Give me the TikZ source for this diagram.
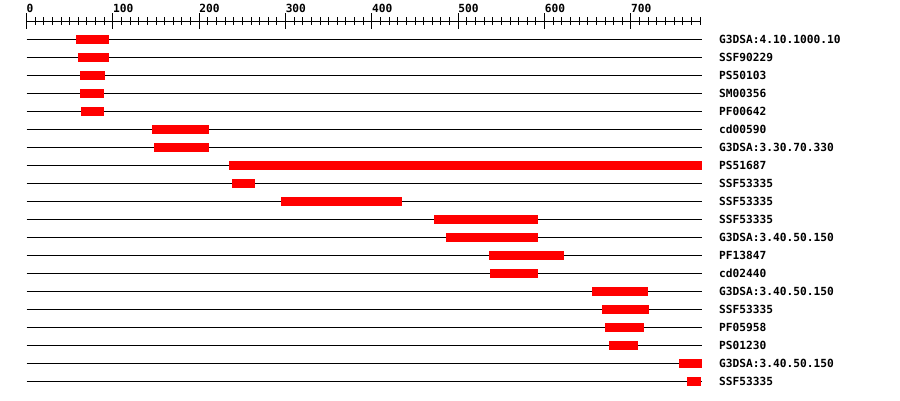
\documentclass[tikz,border=0pt]{standalone}
\usepackage{fontspec}
\setmonofont{DejaVu Sans Mono}

\tikzset{
  track/.style={line width=1pt},
  hit/.style={fill=red},
  tag/.style={anchor=base west, inner sep=0pt, font=\ttfamily\bfseries\fontsize{11.2}{13}\selectfont},
}

\begin{document}
\begin{tikzpicture}[x=1pt,y=-1pt]
  \useasboundingbox (0,0) rectangle (900,400);
  % ruler
  \draw[track] (26.5,21) -- (700,21);
  \foreach \t in {0,10,...,780} { \draw[track] ({26.5+0.8635*\t},17) -- ++(0,8); }
  \foreach \t in {0,100,...,700} {
    \draw[track] ({26.5+0.8635*\t},13) -- ++(0,16);
    \node[tag] (t\t) at ({26.5+0.8635*\t},12) {\t};
  }
  % domain tracks
  \foreach \i/\a/\b/\dom in {1/76/109/G3DSA:4.10.1000.10, 2/78/109/SSF90229,
      3/80/105/PS50103, 4/80/104/SM00356, 5/81/104/PF00642,
      6/152/209/cd00590, 7/154/209/G3DSA:3.30.70.330, 8/229/702/PS51687,
      9/232/255/SSF53335, 10/281/402/SSF53335, 11/434/538/SSF53335,
      12/446/538/G3DSA:3.40.50.150, 13/489/564/PF13847, 14/490/538/cd02440,
      15/592/648/G3DSA:3.40.50.150, 16/602/649/SSF53335, 17/605/644/PF05958,
      18/609/638/PS01230, 19/679/702/G3DSA:3.40.50.150, 20/687/701/SSF53335} {
    \draw[track] (26.5,{21.5+18*\i}) -- (702,{21.5+18*\i});
    \fill[hit] (\a,{17+18*\i}) rectangle (\b,{26+18*\i});
    \node[tag] (r\i) at (719,{25.5+18*\i}) {\dom};
  }
\end{tikzpicture}
\end{document}
